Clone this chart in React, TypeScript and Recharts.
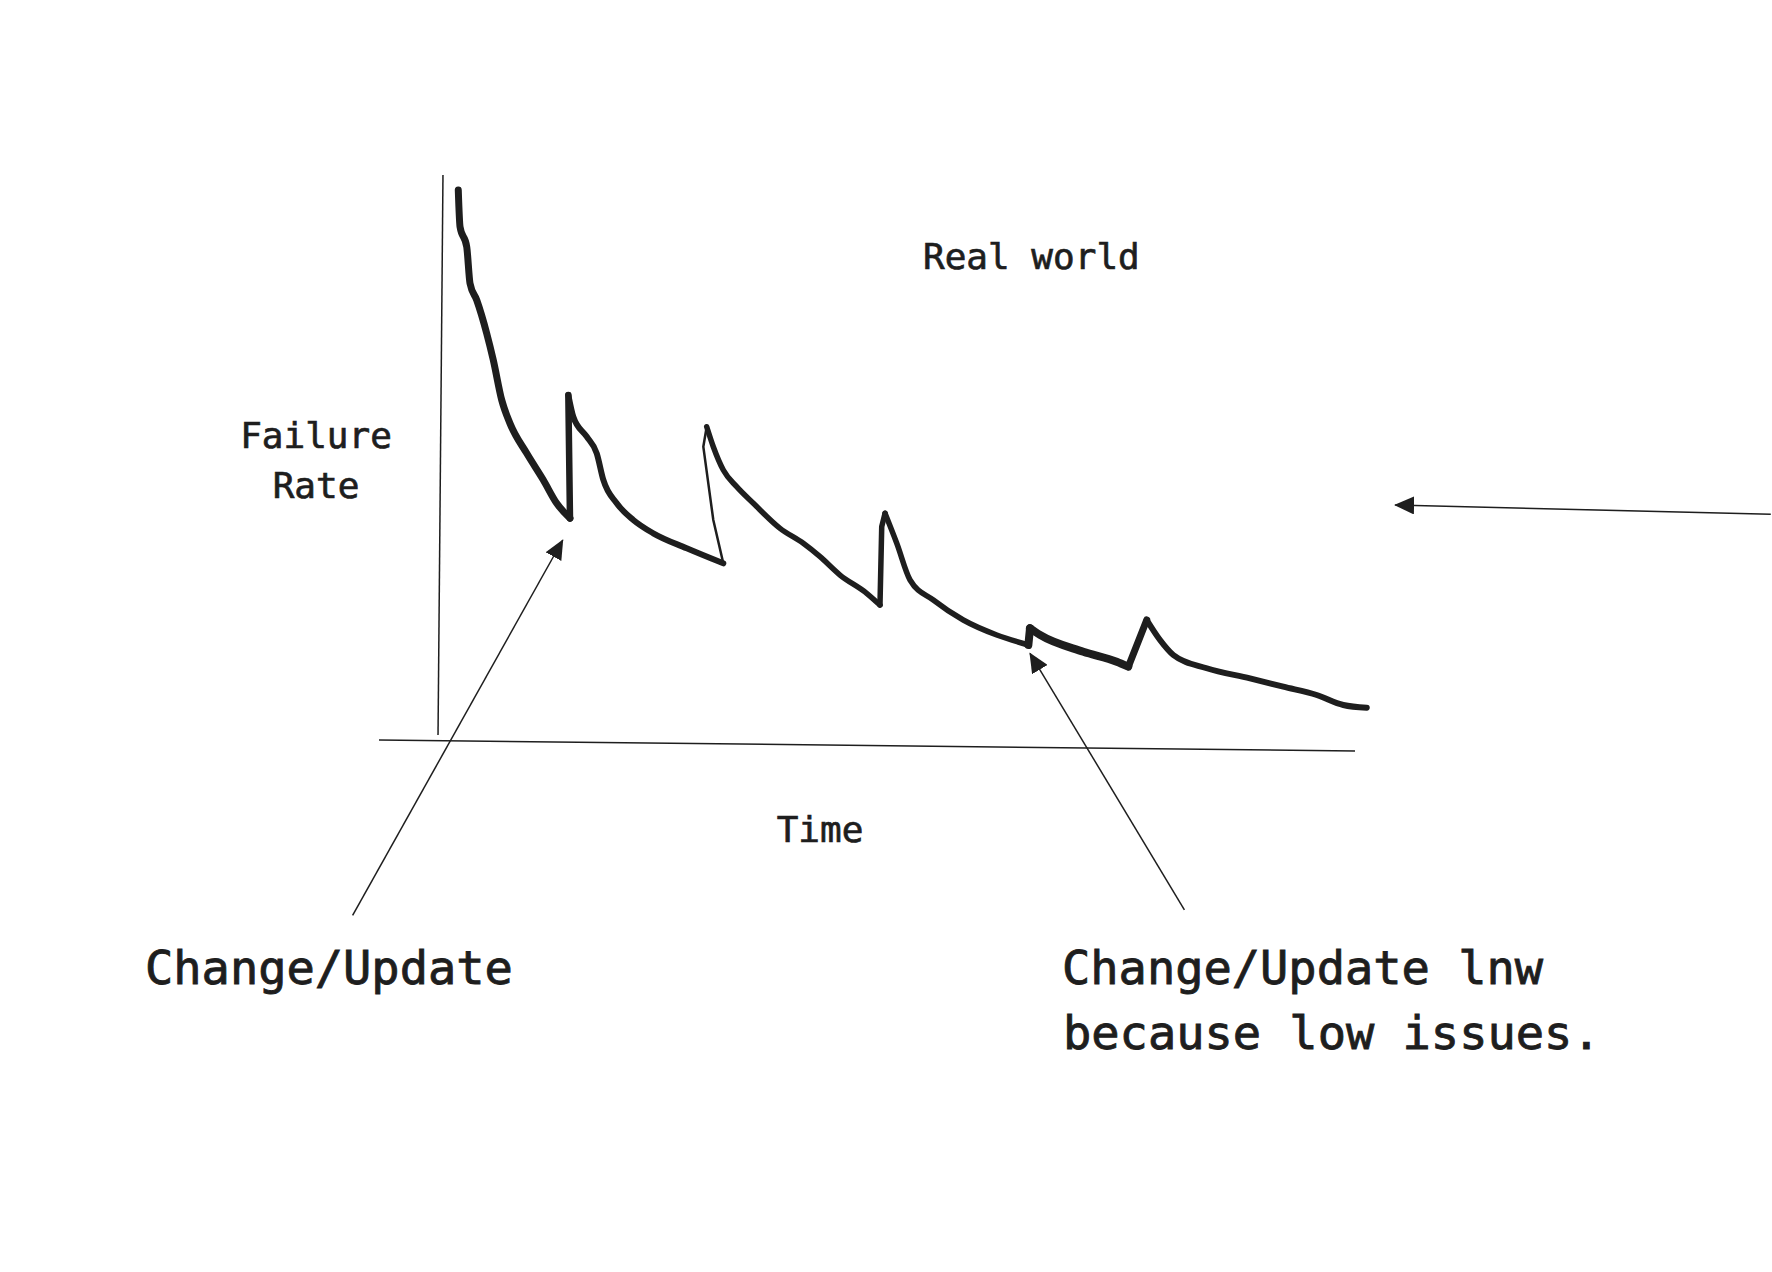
import React from "react";
import { LineChart, Line, XAxis, YAxis, ReferenceLine } from "recharts";

// ---- data (time t, failure rate r) ----
const initialDecay = [
  { t: 2.07, r: 97.42 }, { t: 2.26, r: 90.95 }, { t: 2.99, r: 87.42 }, { t: 3.35, r: 80.97 },
  { t: 4.08, r: 78.03 }, { t: 5.17, r: 72.16 }, { t: 5.89, r: 67.45 }, { t: 6.81, r: 60.4 },
  { t: 7.71, r: 56.29 }, { t: 9.54, r: 51.0 }, { t: 11.35, r: 46.3 }, { t: 12.81, r: 42.19 },
  { t: 14.26, r: 39.55 },
];
const firstJump = [{ t: 14.26, r: 39.55 }, { t: 14.08, r: 61.28 }];
const secondDecay = [
  { t: 14.08, r: 61.28 }, { t: 14.62, r: 57.46 }, { t: 16.09, r: 53.93 }, { t: 17.18, r: 51.0 },
  { t: 17.9, r: 46.3 }, { t: 19.36, r: 42.19 }, { t: 21.17, r: 39.25 }, { t: 23.35, r: 36.9 },
  { t: 27.0, r: 34.26 }, { t: 30.99, r: 31.61 },
];
const thinRise = [
  { t: 30.99, r: 31.61 }, { t: 29.9, r: 39.25 }, { t: 28.81, r: 52.17 }, { t: 29.18, r: 55.69 },
];
const thirdDecay = [
  { t: 29.18, r: 55.69 }, { t: 29.9, r: 52.17 }, { t: 30.99, r: 48.06 }, { t: 32.45, r: 45.12 },
  { t: 34.27, r: 42.19 }, { t: 37.18, r: 37.78 }, { t: 39.72, r: 35.14 }, { t: 41.55, r: 32.78 },
  { t: 43.73, r: 29.55 }, { t: 46.64, r: 26.33 }, { t: 48.09, r: 24.26 },
];
const thirdJump = [{ t: 48.09, r: 24.26 }, { t: 48.28, r: 38.07 }, { t: 48.64, r: 40.43 }];
const fourthDecay = [
  { t: 48.64, r: 40.43 }, { t: 49.92, r: 35.14 }, { t: 51.37, r: 28.67 }, { t: 53.91, r: 25.15 },
  { t: 57.18, r: 21.62 }, { t: 60.83, r: 18.98 }, { t: 64.28, r: 17.21 },
];
const smallBump = [{ t: 64.28, r: 17.21 }, { t: 64.46, r: 20.16 }];
const lowIssueRun = [
  { t: 64.46, r: 20.16 }, { t: 65.55, r: 18.98 }, { t: 70.28, r: 16.03 },
  { t: 73.92, r: 14.27 }, { t: 75.19, r: 13.39 },
];
const lastJump = [{ t: 75.19, r: 13.39 }, { t: 77.2, r: 21.62 }];
const tailRun = [
  { t: 77.2, r: 21.62 }, { t: 78.65, r: 18.09 }, { t: 80.1, r: 15.45 }, { t: 83.75, r: 13.11 },
  { t: 88.47, r: 11.34 }, { t: 92.1, r: 9.86 }, { t: 95.75, r: 8.4 }, { t: 98.65, r: 6.64 },
  { t: 101.21, r: 6.16 },
];

// hand-drawn axes
const yAxisLine = [{ x: 0.4, y: 100.06 }, { x: -0.14, y: 1.35 }];
const xAxisLine = [{ x: -6.58, y: 0.47 }, { x: 99.93, y: -1.47 }];

// annotation arrows (tail -> tip)
const arrowChange = [{ x: -9.46, y: -30.45 }, { x: 13.47, y: 35.72 }];
const arrowLow = [{ x: 81.31, y: -29.47 }, { x: 64.46, y: 15.75 }];
const arrowSide = [{ x: 145.3, y: 40.25 }, { x: 104.3, y: 41.89 }];

const INK = "#1e1e1e";
const FONT = "'DejaVu Sans Mono', 'Liberation Mono', monospace";

export default function App() {
  const base = {
    dataKey: "r",
    stroke: INK,
    dot: false,
    activeDot: false,
    isAnimationActive: false,
    strokeLinecap: "round" as const,
    strokeLinejoin: "round" as const,
  };
  const smooth = { ...base, type: "monotone" as const };
  const straight = { ...base, type: "linear" as const };
  return (
    <div style={{ position: "absolute", left: 0, top: 0, width: 1772, height: 1272, background: "#fff" }}>
      <LineChart width={1772} height={1272} margin={{ top: 147, right: 398, bottom: 501, left: 366 }}>
        <defs>
          <marker id="arrowHead" viewBox="0 0 20 18" refX="19" refY="9" markerWidth="20" markerHeight="18"
            markerUnits="userSpaceOnUse" orient="auto">
            <path d="M0,0 L20,9 L0,18 z" fill={INK} />
          </marker>
        </defs>
        <XAxis type="number" dataKey="t" domain={[-8, 102]} allowDataOverflow hide />
        <YAxis type="number" dataKey="r" domain={[-5, 105]} allowDataOverflow hide />
        <ReferenceLine segment={yAxisLine} stroke={INK} strokeWidth={1.5} ifOverflow="visible" />
        <ReferenceLine segment={xAxisLine} stroke={INK} strokeWidth={1.5} ifOverflow="visible" />
        <ReferenceLine segment={arrowChange} stroke={INK} strokeWidth={1.5} ifOverflow="visible" markerEnd="url(#arrowHead)" />
        <ReferenceLine segment={arrowLow} stroke={INK} strokeWidth={1.5} ifOverflow="visible" markerEnd="url(#arrowHead)" />
        <ReferenceLine segment={arrowSide} stroke={INK} strokeWidth={1.5} ifOverflow="visible" markerEnd="url(#arrowHead)" />
        <Line {...smooth} data={initialDecay} strokeWidth={7} />
        <Line {...straight} data={firstJump} strokeWidth={6.5} />
        <Line {...smooth} data={secondDecay} strokeWidth={6} />
        <Line {...straight} data={thinRise} strokeWidth={2.5} />
        <Line {...smooth} data={thirdDecay} strokeWidth={5.5} />
        <Line {...straight} data={thirdJump} strokeWidth={5.5} />
        <Line {...smooth} data={fourthDecay} strokeWidth={5.5} />
        <Line {...straight} data={smallBump} strokeWidth={8} />
        <Line {...smooth} data={lowIssueRun} strokeWidth={8} />
        <Line {...straight} data={lastJump} strokeWidth={7} />
        <Line {...smooth} data={tailRun} strokeWidth={6} />
      </LineChart>
      <svg width={1772} height={1272} style={{ position: "absolute", left: 0, top: 0, pointerEvents: "none" }}>
        <g fill={INK} stroke={INK} fontFamily={FONT}>
          <text x={923} y={269} fontSize={36} strokeWidth={0.7}>Real world</text>
          <text x={316} y={448} fontSize={36} strokeWidth={0.7} textAnchor="middle">Failure</text>
          <text x={316} y={498} fontSize={36} strokeWidth={0.7} textAnchor="middle">Rate</text>
          <text x={820} y={842} fontSize={36} strokeWidth={0.7} textAnchor="middle">Time</text>
          <text x={145} y={984} fontSize={47} strokeWidth={0.9}>Change/Update</text>
          <text x={1062} y={984} fontSize={47} strokeWidth={0.9}>Change/Update lnw</text>
          <text x={1063} y={1049} fontSize={47} strokeWidth={0.9}>because low issues.</text>
        </g>
      </svg>
    </div>
  );
}
